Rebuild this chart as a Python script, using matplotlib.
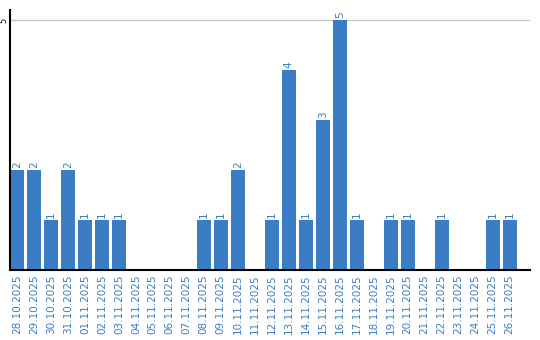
import matplotlib
matplotlib.use("Agg")
import matplotlib.pyplot as plt

# dates and daily counts
dates = ["28.10.2025", "29.10.2025", "30.10.2025", "31.10.2025",
         "01.11.2025", "02.11.2025", "03.11.2025", "04.11.2025",
         "05.11.2025", "06.11.2025", "07.11.2025", "08.11.2025",
         "09.11.2025", "10.11.2025", "11.11.2025", "12.11.2025",
         "13.11.2025", "14.11.2025", "15.11.2025", "16.11.2025",
         "17.11.2025", "18.11.2025", "19.11.2025", "20.11.2025",
         "21.11.2025", "22.11.2025", "23.11.2025", "24.11.2025",
         "25.11.2025", "26.11.2025"]
counts = [2, 2, 1, 2, 1, 1, 1, 0, 0, 0, 0, 1, 1, 2, 0,
          1, 4, 1, 3, 5, 1, 0, 1, 1, 0, 1, 0, 0, 1, 1]

blue = "#3b7dc4"

fig = plt.figure(figsize=(5.4, 3.4), dpi=100)
ax = fig.add_axes([10 / 540, 70 / 340, 520 / 540, 260 / 340])

x = list(range(len(dates)))
ax.bar(x, counts, width=0.82, color=blue, zorder=2)

for xi, c in zip(x, counts):
    if c > 0:
        ax.text(xi, c + 0.04, str(c), rotation=90, ha="center", va="bottom",
                color=blue, fontsize=7.5)

ax.set_xlim(-0.41, 30.2)
ax.set_ylim(0, 5.2)
ax.set_yticks([5])
ax.set_yticklabels(["5"], rotation=90, va="center", fontsize=6)
ax.axhline(5, color="#c8c8c8", lw=1, zorder=1)

ax.set_xticks(x)
ax.set_xticklabels(dates, rotation=90, color=blue, fontsize=7.5)
ax.tick_params(axis="both", length=0, pad=3)
ax.tick_params(axis="y", pad=1)

for s in ["top", "right"]:
    ax.spines[s].set_visible(False)
ax.spines["left"].set_linewidth(1.5)
ax.spines["bottom"].set_linewidth(1.5)

fig.savefig("out.png", dpi=100)
